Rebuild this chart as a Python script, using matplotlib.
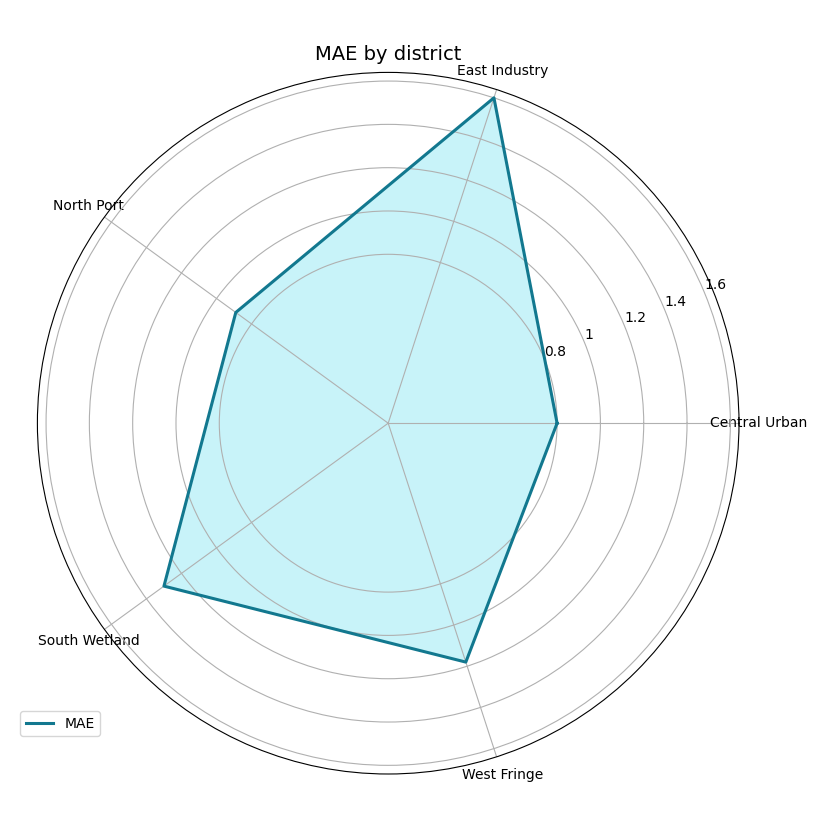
import numpy as np
import matplotlib
matplotlib.use("Agg")
import matplotlib.pyplot as plt

categories = ["Central Urban", "East Industry", "North Port", "South Wetland", "West Fringe"]
mae_values = [0.80, 1.60, 0.89, 1.30, 1.18]
r_ticks = [0.8, 1.0, 1.2, 1.4, 1.6]
r_tick_labels = ["0.8", "1", "1.2", "1.4", "1.6"]

fig = plt.figure(figsize=(8.19, 8.19), dpi=100)
ax = fig.add_axes([37.4/819, 45/819, 701.6/819, 701.6/819], projection="polar")

n = len(categories)
angles = np.linspace(0, 2*np.pi, n, endpoint=False)
ang_closed = np.concatenate([angles, angles[:1]])
val_closed = np.concatenate([mae_values, mae_values[:1]])

ax.fill(ang_closed, val_closed, color="#c8f3f9", zorder=1)
ax.plot(ang_closed, val_closed, color="#12788f", linewidth=2.2, label="MAE", zorder=3)

ax.set_xticks(angles)
ax.set_xticklabels(categories, fontsize=10)
ax.set_ylim(0.02, 1.64)
ax.set_yticks(r_ticks)
ax.set_yticklabels(r_tick_labels, fontsize=10)
ax.grid(True, color="#b0b0b0", linewidth=0.8)
ax.set_title("MAE by district", fontsize=14, pad=1.8)

ax.legend(loc="upper left", bbox_to_anchor=(13/819, 1-704/819), bbox_transform=fig.transFigure)

fig.savefig("out.png", dpi=100)
